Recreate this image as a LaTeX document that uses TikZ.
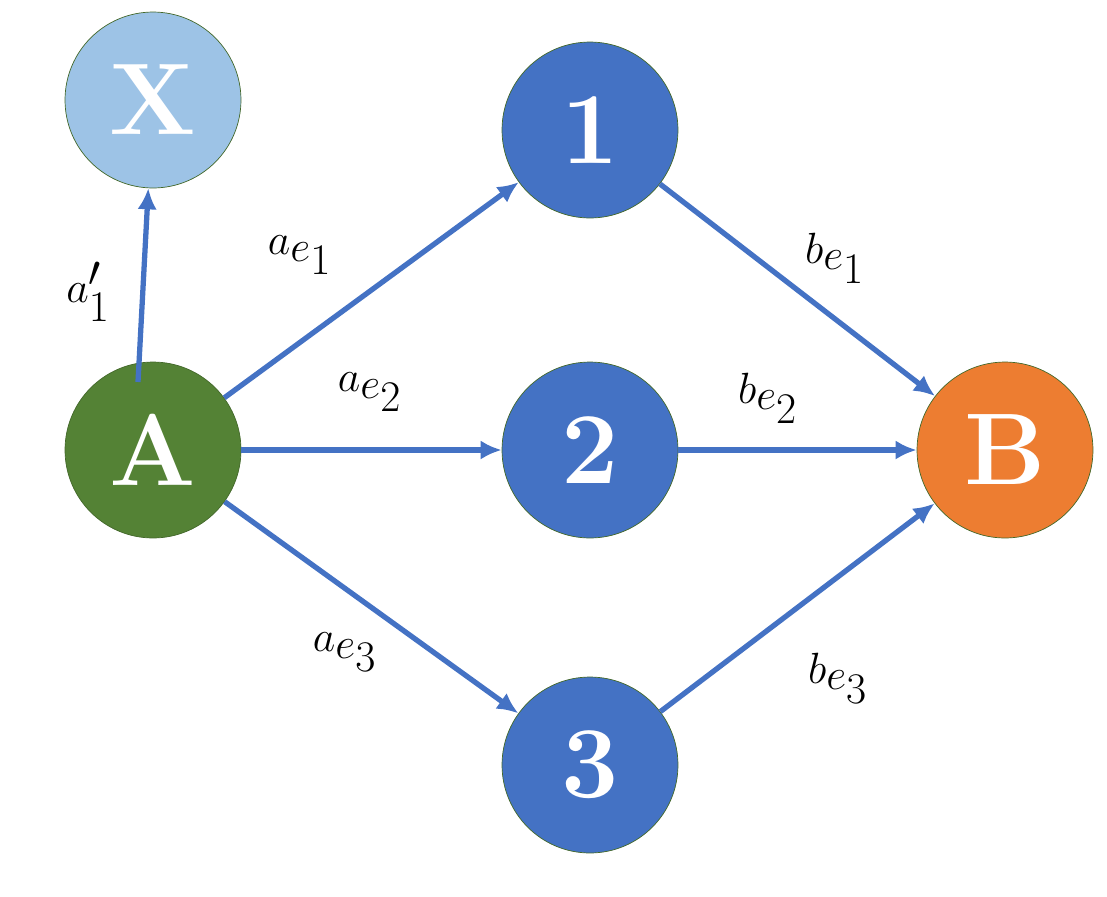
\documentclass[tikz,border=0pt]{standalone}
\usepackage{amsmath}
\definecolor{nodeblue}{HTML}{4472C4}
\definecolor{nodegreen}{HTML}{548235}
\definecolor{nodeorange}{HTML}{ED7D31}
\definecolor{nodelight}{HTML}{9DC3E6}
\tikzset{vtx/.style={circle,minimum size=3.52cm,inner sep=0pt,draw=nodegreen!80!black,line width=0.4pt,
		text=white,font=\fontsize{58}{60}\selectfont\bfseries}}
\tikzset{edge/.style={nodeblue,line width=3pt,-{Latex[length=12pt,width=11pt]}}}
\tikzset{lbl/.style={font=\fontsize{58}{62}\selectfont}}
\usetikzlibrary{arrows.meta}

\begin{document}
\begin{tikzpicture}[x=0.02cm,y=-0.02cm]
	\useasboundingbox (0,0) rectangle (1107,897);
	
	\node[vtx,fill=nodelight] (X) at (153,100) {X};
	\node[vtx,fill=nodegreen] (A) at (153,450) {A};
	\node[vtx,fill=nodeblue] (n1) at (590,130) {1};
	\node[vtx,fill=nodeblue] (n2) at (590,450) {2};
	\node[vtx,fill=nodeblue] (n3) at (590,765) {3};
	\node[vtx,fill=nodeorange] (B) at (1005,450) {B};
	
	\coordinate (Xs) at (138,382);
	\draw[edge] (Xs) -- (X);
	\draw[edge] (A) -- (n1);
	\draw[edge] (A) -- (n2);
	\draw[edge] (A) -- (n3);
	\draw[edge] (n1) -- (B);
	\draw[edge] (n2) -- (B);
	\draw[edge] (n3) -- (B);
	
	\node[lbl] (l0) at (88,292) {$a_1'$};
	\node[lbl] (l1) at (300,255) {$a_{e_1}$};
	\node[lbl] (l2) at (370,392) {$a_{e_2}$};
	\node[lbl] (l3) at (345,652) {$a_{e_3}$};
	\node[lbl] (l4) at (835,258) {$b_{e_1}$};
	\node[lbl] (l5) at (768,398) {$b_{e_2}$};
	\node[lbl] (l6) at (838,678) {$b_{e_3}$};
\end{tikzpicture}
\end{document}
